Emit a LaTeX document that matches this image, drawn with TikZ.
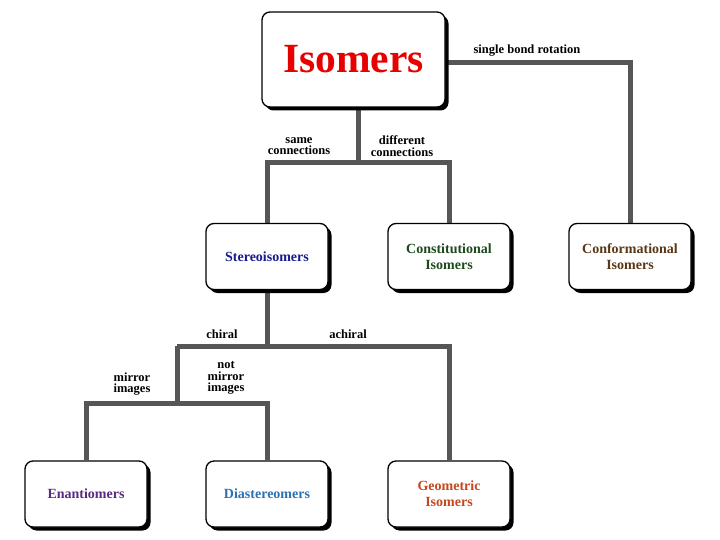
\documentclass[tikz,border=0pt]{standalone}
\usepackage{fontspec}
\setmainfont{Liberation Serif}
\usetikzlibrary{shadows,backgrounds}
\definecolor{linegray}{HTML}{565656}
\definecolor{cred}{HTML}{E60000}
\definecolor{cstereo}{HTML}{1A1A8C}
\definecolor{cconst}{HTML}{1E4A1E}
\definecolor{cconf}{HTML}{5A3815}
\definecolor{cenan}{HTML}{5A2A82}
\definecolor{cdia}{HTML}{2A72B4}
\definecolor{cgeo}{HTML}{C8461E}
\tikzset{
  box/.style={draw=black, line width=1.3pt, fill=white, rounded corners=8pt,
    minimum width=122pt, minimum height=66pt, align=center,
    font=\bfseries\fontsize{14}{16}\selectfont,
    drop shadow={shadow xshift=3.5pt, shadow yshift=-3.5pt, fill=black, opacity=1}},
  conn/.style={draw=linegray, line width=5pt, line join=miter},
  lab/.style={align=center, font=\bfseries\fontsize{12.5}{11.5}\selectfont, inner sep=0pt}
}
\begin{document}
\begin{tikzpicture}[x=1pt,y=-1pt]
\useasboundingbox (0,0) rectangle (720,540);
\node[box, minimum width=183pt, minimum height=95pt, text=cred,
  font=\bfseries\fontsize{41.5}{44}\selectfont] (iso) at (353.5,59.5) {Isomers};
\node[box, text=cstereo] (stereo) at (267,256.5) {Stereoisomers};
\node[box, text=cconst] (const) at (449,256.5) {Constitutional\\Isomers};
\node[box, text=cconf] (conf) at (630,256.5) {Conformational\\Isomers};
\node[box, text=cenan] (enan) at (86,494) {Enantiomers};
\node[box, text=cdia] (dia) at (267,494) {Diastereomers};
\node[box, text=cgeo] (geo) at (449,494) {Geometric\\Isomers};

\coordinate (j1) at (358,163);
\coordinate (j2) at (267,346);
\coordinate (j3) at (177,346);
\coordinate (j4) at (177,403);
\coordinate (j5) at (632,63);

\begin{scope}[on background layer]
\draw[conn] (iso.south -| j1) -- (j1);
\draw[conn] (stereo.north) |- (j1) -| (const.north);
\draw[conn] (iso.east |- j5) -| (conf.north);
\draw[conn] (stereo.south) -- (j2);
\draw[conn] (j3) -| (geo.north);
\draw[conn] (j3) -- (j4);
\draw[conn] (enan.north) |- (j4) -| (dia.north);
\end{scope}

\node[lab] (l1) at (299,146) {same\\connections};
\node[lab] (l2) at (402,146) {different\\connections};
\node[lab] (l3) at (527,51) {single bond rotation};
\node[lab] (l4) at (222,334) {chiral};
\node[lab] (l5) at (348,334) {achiral};
\node[lab] (l6) at (132,384) {mirror\\images};
\node[lab] (l7) at (226,378) {not\\mirror\\images};
\end{tikzpicture}
\end{document}
